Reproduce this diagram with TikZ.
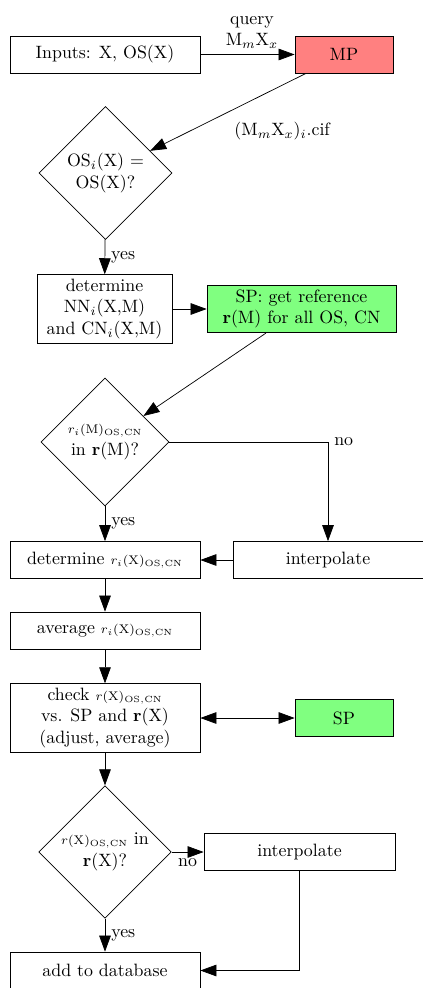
\documentclass[tikz,border=0pt]{standalone}
\usetikzlibrary{shapes.geometric}
\usetikzlibrary{arrows.meta}
\tikzstyle{block} = [draw, rectangle, align=center, inner ysep=2.5pt, minimum width=106.4pt, minimum height=20.7pt]
\tikzstyle{decision} = [draw, diamond, aspect=1, align=center, inner sep=1pt]
\tikzstyle{flow} = [draw, -{Triangle[length=9pt, width=6.5pt]}]
\tikzstyle{twoway} = [draw, {Triangle[length=9pt, width=6.5pt]}-{Triangle[length=9pt, width=6.5pt]}]
\newcommand{\rcoef}[2]{{\scriptsize $#1$(#2)$_{\mathrm{OS,CN}}$}}

\begin{document}
\begin{tikzpicture}[x=0.56pt, y=-0.56pt]
	\useasboundingbox (0,0) rectangle (422,988);
	\node[block] (inputs) at (105,54.5) {Inputs: X, OS(X)};
	\node[block, fill=red!50, minimum width=54.9pt] (mp) at (344,54.5) {MP};
	\node[decision, minimum size=74.5pt] (check1) at (105.5,173) {OS$_i$(X) $=$\\OS(X)?};
	\node[block, minimum width=75.6pt] (determineNN) at (104.5,309) {determine\\NN$_i$(X,M)\\and CN$_i$(X,M)};
	\node[block, fill=green!50, minimum width=105.8pt] (spRef) at (301.5,309) {SP: get reference\\$\mathbf{r}$(M) for all OS, CN};
	\node[decision, minimum size=71.7pt] (check2) at (105,442) {\rcoef{r_i}{M}\\in $\mathbf{r}$(M)?};
	\node[block] (interpolateM) at (328,560) {interpolate};
	\node[block] (determineR) at (105,560) {determine \rcoef{r_i}{X}};
	\node[block] (averageR) at (105,630.5) {average \rcoef{r_i}{X}};
	\node[block] (checkR) at (105,718) {check \rcoef{r}{X}\\vs. SP and $\mathbf{r}$(X)\\(adjust, average)};
	\node[block, fill=green!50, minimum width=54.9pt] (spCheck) at (344,718) {SP};
	\node[decision, minimum size=73.4pt] (check3) at (105,852) {\rcoef{r}{X} in\\$\mathbf{r}$(X)?};
	\node[block, minimum width=107pt] (interpolateX) at (299.5,852) {interpolate};
	\node[block] (addDatabase) at (105,970.5) {add to database};

	\path[flow] (inputs) -- node[above, align=center, xshift=2.5pt] {query\\M$_m$X$_x$} (mp);
	\path[flow] (mp) -- node[below right, yshift=-2pt] {(M$_m$X$_x$)$_i$.cif} (check1);
	\path[flow] (check1) -- node[right] {yes} (determineNN);
	\path[flow] (determineNN) -- (spRef);
	\path[flow] (spRef) -- (check2);
	\path[flow] (check2) -- node[right] {yes} (determineR);
	\path[flow] (check2) -| node[pos=0.5, right] {no} (interpolateM);
	\path[flow] (interpolateM) -- (determineR);
	\path[flow] (determineR) -- (averageR);
	\path[flow] (averageR) -- (checkR);
	\path[twoway] (checkR) -- (spCheck);
	\path[flow] (checkR) -- (check3);
	\path[flow] (check3) -- node[below] {no} (interpolateX);
	\path[flow] (check3) -- node[right] {yes} (addDatabase);
	\path[flow] (interpolateX) |- (addDatabase);
\end{tikzpicture}
\end{document}
